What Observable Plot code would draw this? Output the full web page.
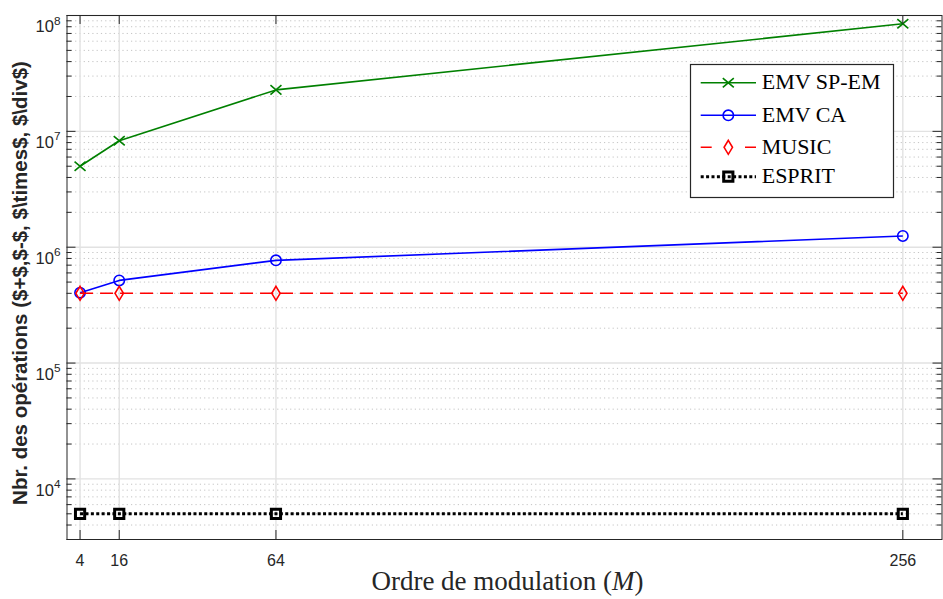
<!DOCTYPE html>
<html>
<head>
<meta charset="utf-8">
<script src="https://cdn.jsdelivr.net/npm/d3@7"></script>
<script src="https://cdn.jsdelivr.net/npm/@observablehq/plot@0.6"></script>
<style>
  html, body { margin: 0; padding: 0; background: #fff; }
  #chart { width: 943px; height: 599px; }
</style>
</head>
<body>
<div id="chart"></div>
<script>
// ---- data ----
const orders = [4, 16, 64, 256];
const emvSpEm = [5.0e6, 8.3e6, 2.28e7, 8.48e7];
const emvCa = [4.05e5, 5.17e5, 7.7e5, 1.25e6];
const music = [4.0e5, 4.0e5, 4.0e5, 4.0e5];
const esprit = [5.0e3, 5.0e3, 5.0e3, 5.0e3];
const seriesNames = ["EMV SP-EM", "EMV CA", "MUSIC", "ESPRIT"];
const xTickValues = [4, 16, 64, 256];
const yTickExponents = [4, 5, 6, 7, 8];
const xLabel = "Ordre de modulation (";
const xLabelVar = "M";
const yLabel = "Nbr. des opérations ($+$,$-$, $\\times$, $\\div$)";

// ---- scales / ticks ----
const xDomain = [0, 268];
const yDomain = [3000, 1e8];
const yTicks = yTickExponents.map(e => Math.pow(10, e));
const yMinor = [];
for (let e = 3; e <= 7; e++) for (let m = 2; m <= 9; m++) {
  const v = m * Math.pow(10, e);
  if (v >= yDomain[0] && v <= yDomain[1]) yMinor.push(v);
}

// ---- custom marker symbols ----
const symX = { draw(ctx, size) { const r = Math.sqrt(size / Math.PI); const h = r * 0.85;
  ctx.moveTo(-r, -h); ctx.lineTo(r, h); ctx.moveTo(-r, h); ctx.lineTo(r, -h); } };
const symCircle = { draw(ctx, size) { const r = Math.sqrt(size / Math.PI);
  ctx.moveTo(r, 0); ctx.arc(0, 0, r, 0, 2 * Math.PI); } };
const symDiamond = { draw(ctx, size) { const r = Math.sqrt(size / Math.PI); const w = r * 0.6;
  ctx.moveTo(0, -r); ctx.lineTo(w, 0); ctx.lineTo(0, r); ctx.lineTo(-w, 0); ctx.closePath(); } };
const symSquare = { draw(ctx, size) { const r = Math.sqrt(size / Math.PI);
  ctx.rect(-r, -r, 2 * r, 2 * r); } };

const seriesValues = [emvSpEm, emvCa, music, esprit];
const styles = [
  { stroke: "#008000", width: 1.6, dash: null, symbol: symX, r: 5.5, mw: 1.6 },
  { stroke: "#0000ff", width: 1.6, dash: null, symbol: symCircle, r: 5.2, mw: 1.6 },
  { stroke: "#ff0000", width: 1.6, dash: "13,7", symbol: symDiamond, r: 7, mw: 1.6 },
  { stroke: "#000000", width: 3, dash: "3,2.4", symbol: symSquare, r: 4.6, mw: 3 }
];
const rows = seriesNames.map((name, i) => orders.map((x, j) => ({ series: name, x, y: seriesValues[i][j] })));

const axisColor = "#262626";

const marks = [
  // minor grid
  Plot.ruleY(yMinor, { stroke: "#c4c4c4", strokeWidth: 1, strokeDasharray: "1.2,3.1" }),
  // major grid
  Plot.ruleY(yTicks, { stroke: "#e2e2e2", strokeWidth: 1.4 }),
  Plot.ruleX(xTickValues, { stroke: "#e2e2e2", strokeWidth: 1.4 }),
];
rows.forEach((data, i) => {
  const s = styles[i];
  marks.push(Plot.line(data, { x: "x", y: "y", stroke: s.stroke, strokeWidth: s.width, strokeDasharray: s.dash,
    strokeLinecap: "butt", strokeLinejoin: "miter" }));
  marks.push(Plot.dot(data, { x: "x", y: "y", symbol: s.symbol, r: s.r, stroke: s.stroke, strokeWidth: s.mw, fill: "none" }));
});
marks.push(
  Plot.frame({ stroke: axisColor, strokeWidth: 1 }),
  // inward ticks
  Plot.ruleX(xTickValues, { y1: yDomain[0], y2: yDomain[0], insetBottom: 9, stroke: axisColor }),
  Plot.ruleX(xTickValues, { y1: yDomain[1], y2: yDomain[1], insetTop: 9, stroke: axisColor }),
  Plot.ruleY(yTicks, { x1: xDomain[0], x2: xDomain[0], insetLeft: 9, stroke: axisColor }),
  Plot.ruleY(yMinor, { x1: xDomain[0], x2: xDomain[0], insetLeft: 5, stroke: axisColor }),
  Plot.ruleY(yTicks, { x1: xDomain[1], x2: xDomain[1], insetRight: 9, stroke: axisColor }),
  Plot.ruleY(yMinor, { x1: xDomain[1], x2: xDomain[1], insetRight: 5, stroke: axisColor }),
  Plot.axisX({ ticks: xTickValues, tickSize: 0, tickPadding: 15, fontSize: 16, fill: axisColor, label: null, tickFormat: d => String(d) }),
  Plot.axisY({ ticks: yTicks, tickSize: 0, tickPadding: 6.5, fontSize: 16.5, fill: axisColor, label: null,
    tickFormat: d => "10^" + Math.round(Math.log10(d)) }),
  Plot.text([yLabel], { frameAnchor: "left", dx: -46.5, dy: 5.5, rotate: -90, textAnchor: "middle",
    fontWeight: "bold", fontSize: 20.5, fill: axisColor })
);

const chart = Plot.plot({
  width: 943,
  height: 599,
  marginTop: 15,
  marginRight: 1.5,
  marginBottom: 60,
  marginLeft: 66.5,
  style: { fontFamily: "'Liberation Sans', Arial, Helvetica, sans-serif", background: "#fff", color: axisColor, overflow: "visible" },
  x: { type: "linear", domain: xDomain },
  y: { type: "log", domain: yDomain },
  marks
});
document.getElementById("chart").appendChild(chart);

const svg = d3.select(chart);
// superscript exponents on y tick labels
svg.selectAll('g[aria-label="y-axis tick label"] text').each(function () {
  const s = this.textContent;
  const parts = s.split("^");
  const t = d3.select(this);
  t.text(parts[0]).attr("dy", 11.5);
  t.append("tspan").attr("font-size", 11.8).attr("dy", -7.7).text(parts[1]);
});

// x label with italic M
const xl = svg.append("text")
  .attr("x", 507.5).attr("y", 589.5)
  .attr("text-anchor", "middle")
  .attr("font-family", "'Liberation Serif', 'Times New Roman', serif")
  .attr("font-size", 27)
  .attr("fill", "#262626");
xl.append("tspan").text(xLabel);
xl.append("tspan").attr("font-style", "italic").text(xLabelVar);
xl.append("tspan").text(")");

// legend
const lg = svg.append("g").attr("aria-label", "legend");
lg.append("rect").attr("x", 690.5).attr("y", 64.5).attr("width", 203).attr("height", 133)
  .attr("fill", "#fff").attr("stroke", "#262626").attr("stroke-width", 1.2);
const rowY = [82.7, 115.3, 147.3, 176.7];
seriesNames.forEach((name, i) => {
  const s = styles[i];
  const y = rowY[i];
  const line = lg.append("line").attr("x1", 700.7).attr("x2", 756).attr("y1", y).attr("y2", y)
    .attr("stroke", s.stroke).attr("stroke-width", s.width).attr("stroke-linecap", "butt");
  if (i === 2) line.attr("stroke-dasharray", "11,33.3");
  else if (s.dash) line.attr("stroke-dasharray", s.dash);
  const p = d3.path();
  s.symbol.draw(p, s.r * s.r * Math.PI);
  lg.append("path").attr("d", p.toString()).attr("transform", `translate(728.3,${y})`)
    .attr("fill", i === 2 ? "#fff" : "none").attr("stroke", s.stroke).attr("stroke-width", s.mw);
  lg.append("text").attr("x", 761.7).attr("y", y + 6.7)
    .attr("text-anchor", "start")
    .attr("font-family", "'Liberation Serif', 'Times New Roman', serif")
    .attr("font-size", 22).attr("fill", "#000").text(name);
});
</script>
</body>
</html>
